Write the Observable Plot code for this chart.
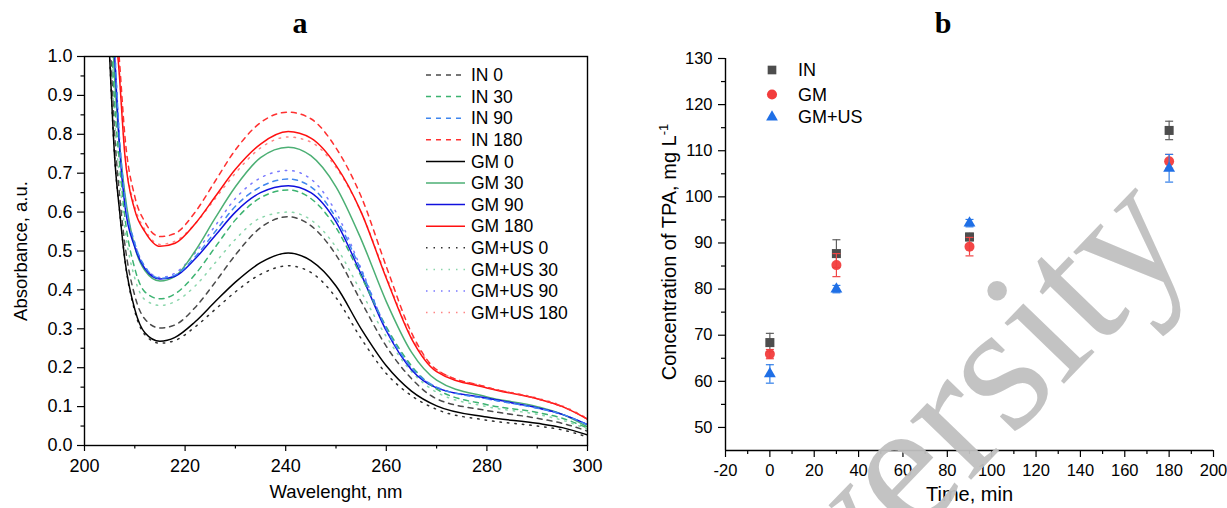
<!DOCTYPE html>
<html><head><meta charset="utf-8">
<script src="https://cdn.jsdelivr.net/npm/d3@7"></script>
<script src="https://cdn.jsdelivr.net/npm/@observablehq/plot@0.6"></script>
<style>
html,body{margin:0;padding:0;background:#fff;}
#wrap{position:relative;width:1227px;height:508px;overflow:hidden;font-family:"Liberation Sans",Arial,sans-serif;}
#wrap > svg{position:absolute;top:0;}
</style></head><body><div id="wrap"></div>
<script>
// ---------- Panel a data: UV spectra ----------
const wavelengths = [204,205,206,207,208,210,212,215,218,222,226,230,235,240.5,245,250,255,260,265,270,280,290,295,300];
const absIN0    = [1.4,1.08,0.8,0.64,0.52,0.385,0.325,0.302,0.31,0.355,0.42,0.49,0.56,0.588,0.565,0.49,0.37,0.255,0.172,0.12,0.09,0.07,0.057,0.037];
const absIN30   = [1.5,1.15,0.88,0.72,0.59,0.455,0.395,0.377,0.39,0.44,0.51,0.58,0.637,0.657,0.635,0.56,0.435,0.305,0.205,0.145,0.105,0.085,0.07,0.045];
const absIN90   = [1.6,1.27,1.02,0.78,0.64,0.52,0.46,0.43,0.438,0.485,0.55,0.615,0.665,0.685,0.665,0.585,0.45,0.3,0.2,0.15,0.12,0.096,0.08,0.053];
const absIN180  = [1.95,1.5,1.16,0.98,0.8,0.64,0.575,0.537,0.545,0.6,0.68,0.76,0.83,0.857,0.84,0.765,0.64,0.46,0.29,0.195,0.15,0.12,0.1,0.068];
const absGM0    = [1.3,1.0,0.74,0.6,0.48,0.35,0.29,0.268,0.278,0.318,0.37,0.42,0.47,0.495,0.475,0.41,0.30,0.205,0.14,0.102,0.073,0.057,0.046,0.027];
const absGM30   = [1.55,1.2,0.94,0.77,0.65,0.51,0.45,0.423,0.435,0.5,0.585,0.665,0.74,0.767,0.745,0.665,0.53,0.37,0.24,0.168,0.125,0.1,0.08,0.048];
const absGM90   = [1.6,1.25,1.0,0.76,0.62,0.51,0.455,0.428,0.435,0.48,0.54,0.6,0.65,0.668,0.65,0.575,0.44,0.295,0.195,0.148,0.122,0.097,0.08,0.054];
const absGM180  = [1.9,1.45,1.12,0.94,0.75,0.605,0.55,0.512,0.52,0.57,0.64,0.71,0.775,0.807,0.79,0.72,0.6,0.43,0.275,0.19,0.148,0.12,0.1,0.068];
const absGMUS0  = [1.3,1.0,0.74,0.6,0.48,0.345,0.285,0.263,0.27,0.305,0.35,0.395,0.44,0.462,0.445,0.38,0.275,0.185,0.128,0.093,0.065,0.05,0.04,0.022];
const absGMUS30 = [1.45,1.1,0.84,0.68,0.56,0.43,0.375,0.36,0.37,0.41,0.47,0.53,0.585,0.6,0.58,0.51,0.395,0.28,0.19,0.137,0.1,0.08,0.065,0.042];
const absGMUS90 = [1.6,1.27,1.02,0.78,0.64,0.52,0.46,0.432,0.443,0.495,0.565,0.635,0.688,0.707,0.685,0.6,0.455,0.3,0.198,0.15,0.12,0.096,0.08,0.053];
const absGMUS180= [1.9,1.45,1.13,0.95,0.76,0.615,0.555,0.517,0.525,0.57,0.635,0.7,0.765,0.793,0.78,0.715,0.6,0.435,0.28,0.195,0.15,0.122,0.102,0.07];

const seriesNames  = ["IN 0","IN 30","IN 90","IN 180","GM 0","GM 30","GM 90","GM 180","GM+US 0","GM+US 30","GM+US 90","GM+US 180"];
const seriesValues = [absIN0,absIN30,absIN90,absIN180,absGM0,absGM30,absGM90,absGM180,absGMUS0,absGMUS30,absGMUS90,absGMUS180];
const seriesColors = ["#4a4a4a","#3cb371","#3f86ee","#ff3030","#000000","#4caf74","#1010dd","#ff1010","#303030","#8ad6ab","#7a7aff","#ff8585"];
const seriesDash   = ["5,5","5,5","5,5","5,5",null,null,null,null,"1.5,6","1.5,6","1.5,6","1.5,6"];

const xTicksA = [200,220,240,260,280,300];
const xMinorA = [210,230,250,270,290];
const yTicksA = [0,0.1,0.2,0.3,0.4,0.5,0.6,0.7,0.8,0.9,1.0];
const yMinorA = [0.05,0.15,0.25,0.35,0.45,0.55,0.65,0.75,0.85,0.95];

// ---------- Panel b data: TPA concentration ----------
const times    = [0, 30, 90, 180];
const concIN   = [68.4, 87.7, 91.3, 114.4];
const errIN    = [2.0, 3.0, 0.8, 2.0];
const concGM   = [65.9, 85.2, 89.2, 107.7];
const errGM    = [1.0, 2.5, 2.0, 1.5];
const concGMUS = [61.6, 80.0, 94.3, 106.2];
const errGMUS  = [2.0, 0.8, 0.8, 3.0];
const groupNames = ["IN","GM","GM+US"];
const groupColors = ["#4d4d4d","#f23c3c","#1f6fe6"];
const groupErrColors = ["#606060","#f04545","#2f7de8"];
const groupSymbols = ["square","circle","triangle"];

const xTicksB = [-20,0,20,40,60,80,100,120,140,160,180,200];
const xMinorB = [-10,10,30,50,70,90,110,130,150,170,190];
const yTicksB = [50,60,70,80,90,100,110,120,130];
const yMinorB = [55,65,75,85,95,105,115,125];

const wrap = document.getElementById("wrap");
const plainInt = d => String(d);

// ---------- Panel a ----------
const spectra = [];
seriesNames.forEach((name, s) => seriesValues[s].forEach((v, i) => spectra.push({series: name, s, w: wavelengths[i], a: v})));
const drawOrder = [8,9,10,11,4,5,6,7,0,1,2,3];
const lineMarks = drawOrder.map(s => Plot.line(spectra.filter(d => d.s === s), {
  x: "w", y: "a", stroke: seriesColors[s], strokeWidth: 1.5,
  strokeDasharray: seriesDash[s] || undefined, curve: "monotone-x", clip: true
}));

const plotA = Plot.plot({
  width: 610, height: 508,
  marginLeft: 84, marginRight: 23, marginTop: 56, marginBottom: 63,
  x: {domain: [200, 300]},
  y: {domain: [0, 1]},
  style: {fontFamily: "'Liberation Sans', Arial, sans-serif", fontSize: "18px", color: "#000", background: "transparent", overflow: "visible"},
  marks: [
    ...lineMarks,
    Plot.frame({stroke: "#000", strokeWidth: 1.4}),
    Plot.axisY({ticks: yTicksA, tickSize: 7, tickPadding: 5, tickFormat: d3.format(".1f"), label: null, strokeWidth: 1.2}),
    Plot.axisY({ticks: yMinorA, tickSize: 3.5, tickFormat: () => "", label: null, strokeWidth: 1.2}),
    Plot.axisX({ticks: xTicksA, tickSize: 6, tickPadding: 8, tickFormat: plainInt, label: null, strokeWidth: 1.2}),
    Plot.axisX({ticks: xMinorA, tickSize: 3.5, tickFormat: () => "", label: null, strokeWidth: 1.2}),
    Plot.text(["Absorbance, a.u."], {text: d => d, frameAnchor: "left", dx: -63, rotate: -90, textAnchor: "middle", fontSize: 18.5}),
    Plot.text(["Wavelenght, nm"], {text: d => d, frameAnchor: "bottom", dy: 52, textAnchor: "middle", fontSize: 18.5})
  ]
});
plotA.style.left = "0px";
wrap.appendChild(plotA);

// ---------- Panel b ----------
const capSymbol = {draw(ctx) { ctx.moveTo(-4, 0); ctx.lineTo(4, 0); }};
const groupConc = [concIN, concGM, concGMUS];
const groupErr = [errIN, errGM, errGMUS];
const pointsB = [];
groupNames.forEach((g, k) => times.forEach((t, i) => pointsB.push({g, k, t, v: groupConc[k][i], e: groupErr[k][i]})));

const bMarks = [];
groupNames.forEach((g, k) => {
  const rows = pointsB.filter(d => d.k === k);
  bMarks.push(Plot.ruleX(rows, {x: "t", y1: d => d.v - d.e, y2: d => d.v + d.e, stroke: groupErrColors[k], strokeWidth: 1.2}));
  bMarks.push(Plot.dot(rows, {x: "t", y: d => d.v - d.e, symbol: capSymbol, r: 3, fill: "none", stroke: groupErrColors[k], strokeWidth: 1.2}));
  bMarks.push(Plot.dot(rows, {x: "t", y: d => d.v + d.e, symbol: capSymbol, r: 3, fill: "none", stroke: groupErrColors[k], strokeWidth: 1.2}));
  const r = k === 0 ? 5.1 : (k === 1 ? 5.0 : 4.4);
  bMarks.push(Plot.dot(rows, {x: "t", y: "v", symbol: groupSymbols[k], r, fill: groupColors[k], stroke: "none", fillOpacity: k === 1 ? 0.95 : 1}));
});

const plotB = Plot.plot({
  width: 617, height: 508,
  marginLeft: 115, marginRight: 14, marginTop: 58, marginBottom: 58,
  x: {domain: [-20, 200]},
  y: {domain: [45, 130]},
  style: {fontFamily: "'Liberation Sans', Arial, sans-serif", fontSize: "16.5px", color: "#000", background: "transparent", overflow: "visible"},
  marks: [
    Plot.ruleX([-20], {stroke: "#000", strokeWidth: 1.4}),
    Plot.ruleY([45], {stroke: "#000", strokeWidth: 1.4}),
    Plot.axisY({ticks: yTicksB, tickSize: 7, tickPadding: 6, tickFormat: plainInt, label: null, strokeWidth: 1.2}),
    Plot.axisY({ticks: yMinorB, tickSize: 4, tickFormat: () => "", label: null, strokeWidth: 1.2}),
    Plot.axisX({ticks: xTicksB, tickSize: 7, tickPadding: 7, tickFormat: plainInt, label: null, strokeWidth: 1.2}),
    Plot.axisX({ticks: xMinorB, tickSize: 4, tickFormat: () => "", label: null, strokeWidth: 1.2}),
    ...bMarks,
    Plot.text(["Time, min"], {text: d => d, frameAnchor: "bottom", dy: 50, textAnchor: "middle", fontSize: 20})
  ]
});
plotB.style.left = "610px";
wrap.appendChild(plotB);

// ---------- Overlay: panel letters, legends, y label of b, watermark ----------
const ov = d3.select(wrap).append("svg")
  .attr("width", 1227).attr("height", 508)
  .style("left", "0px").style("pointer-events", "none")
  .attr("font-family", "'Liberation Sans', Arial, sans-serif");

// watermark (drawn first so chart texts stay readable)
ov.append("text").attr("transform", "translate(1197,246) rotate(-46)")
  .attr("text-anchor", "end").attr("font-family", "'Liberation Serif', 'Times New Roman', serif")
  .attr("font-size", 185).attr("fill", "#c0c0c0").attr("fill-opacity", 0.95).text("University");

ov.append("text").attr("x", 300).attr("y", 33).attr("text-anchor", "middle")
  .attr("font-family", "'Liberation Serif', 'Times New Roman', serif").attr("font-weight", "bold").attr("font-size", 30).text("a");
ov.append("text").attr("x", 943).attr("y", 33).attr("text-anchor", "middle")
  .attr("font-family", "'Liberation Serif', 'Times New Roman', serif").attr("font-weight", "bold").attr("font-size", 30).text("b");

// legend a
seriesNames.forEach((name, s) => {
  const y = 75 + s * 21.6;
  ov.append("line").attr("x1", 426).attr("x2", 465).attr("y1", y).attr("y2", y)
    .attr("stroke", seriesColors[s]).attr("stroke-width", 1.5)
    .attr("stroke-dasharray", seriesDash[s]);
  ov.append("text").attr("x", 471).attr("y", y).attr("dy", "0.35em").attr("font-size", 17.5).text(name);
});

// legend b
groupNames.forEach((g, k) => {
  const y = [70, 94.5, 117][k];
  const sym = d3.symbol().type([d3.symbolSquare, d3.symbolCircle, d3.symbolTriangle][k]).size([75, 80, 60][k]);
  ov.append("path").attr("d", sym()).attr("transform", `translate(772,${y})`).attr("fill", groupColors[k]);
  ov.append("text").attr("x", 798).attr("y", y).attr("dy", "0.35em").attr("font-size", 18).text(g);
});

// y label of panel b with superscript
const yl = ov.append("text").attr("transform", "translate(676,252) rotate(-90)").attr("text-anchor", "middle").attr("font-size", 20);
yl.append("tspan").text("Concentration of TPA, mg L");
yl.append("tspan").attr("dy", -8).attr("font-size", 13).text("-1");
</script></body></html>
